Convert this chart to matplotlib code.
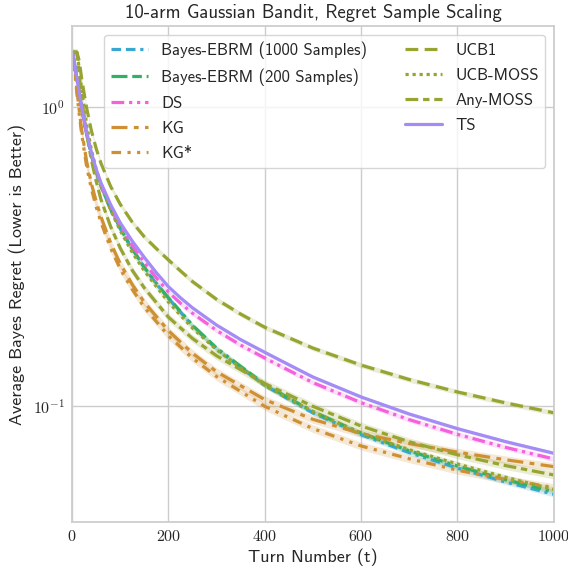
import numpy as np
import matplotlib
matplotlib.use("Agg")
import matplotlib.pyplot as plt
import seaborn as sns
from matplotlib.ticker import FuncFormatter, NullFormatter, NullLocator

turns = [1, 5, 10, 15, 20, 30, 40, 50, 60, 80, 100, 125, 150, 175, 200, 225,
         250, 300, 350, 400, 450, 500, 600, 700, 800, 900, 1000]

ebrm_1000 = [1.53, 1.395, 1.244, 1.108, 0.987, 0.812, 0.691, 0.606, 0.543,
             0.4545, 0.392, 0.334, 0.290, 0.256, 0.229, 0.206, 0.185, 0.155,
             0.1345, 0.117, 0.105, 0.0946, 0.080, 0.0696, 0.0618, 0.0555,
             0.0505]
ebrm_200 = [1.53, 1.395, 1.244, 1.108, 0.987, 0.812, 0.691, 0.606, 0.543,
            0.455, 0.393, 0.335, 0.291, 0.257, 0.230, 0.207, 0.186, 0.156,
            0.1355, 0.118, 0.106, 0.0955, 0.081, 0.0706, 0.0628, 0.0565,
            0.0515]
ds = [1.53, 1.395, 1.244, 1.108, 0.99, 0.815, 0.695, 0.61, 0.548, 0.461,
      0.40, 0.344, 0.302, 0.268, 0.2404, 0.2205, 0.2041, 0.1787, 0.1596,
      0.1445, 0.1313, 0.1195, 0.1024, 0.0898, 0.0802, 0.0725, 0.0663]
kg = [1.53, 1.36, 1.14, 0.97, 0.835, 0.66, 0.555, 0.4835, 0.429, 0.351,
      0.299, 0.2546, 0.222, 0.199, 0.1784, 0.1635, 0.1499, 0.130, 0.1167,
      0.1048, 0.0971, 0.090, 0.0807, 0.0747, 0.0699, 0.0659, 0.0625]
kg_star = [1.53, 1.34, 1.11, 0.94, 0.81, 0.635, 0.533, 0.463, 0.411, 0.337,
           0.287, 0.245, 0.2135, 0.1913, 0.1715, 0.1573, 0.1443, 0.1252,
           0.1116, 0.0995, 0.0913, 0.0838, 0.0733, 0.0664, 0.0608, 0.0566,
           0.0532]
ucb1 = [1.53, 1.53, 1.53, 1.425, 1.24, 0.997, 0.835, 0.727, 0.649, 0.543,
        0.473, 0.412, 0.368, 0.336, 0.308, 0.283, 0.2606, 0.2272, 0.2028,
        0.1832, 0.169, 0.156, 0.1368, 0.1224, 0.1112, 0.1022, 0.0947]
ucb_moss = [1.53, 1.53, 1.53, 1.33, 1.14, 0.88, 0.72, 0.62, 0.548, 0.452,
            0.386, 0.326, 0.283, 0.2505, 0.2225, 0.201, 0.182, 0.154, 0.134,
            0.117, 0.1056, 0.0955, 0.081, 0.0712, 0.0638, 0.0576, 0.0524]
any_moss = [1.53, 1.53, 1.53, 1.28, 1.07, 0.82, 0.665, 0.565, 0.49, 0.398,
            0.337, 0.284, 0.248, 0.2215, 0.198, 0.1823, 0.168, 0.147, 0.132,
            0.1187, 0.1087, 0.0995, 0.0855, 0.0757, 0.0685, 0.063, 0.0586]
ts = [1.53, 1.40, 1.25, 1.115, 1.0, 0.825, 0.705, 0.62, 0.558, 0.472, 0.41,
      0.356, 0.314, 0.279, 0.2505, 0.2299, 0.2128, 0.1863, 0.1665, 0.151,
      0.1372, 0.1248, 0.107, 0.0938, 0.0838, 0.0758, 0.0693]

labels = ["Bayes-EBRM (1000 Samples)", "Bayes-EBRM (200 Samples)", "DS", "KG",
          "KG*", "UCB1", "UCB-MOSS", "Any-MOSS", "TS"]
series = [ebrm_1000, ebrm_200, ds, kg, kg_star, ucb1, ucb_moss, any_moss, ts]
# relative half-width of the shaded band around each curve
ci_frac = [0.02, 0.02, 0.02, 0.03, 0.03, 0.02, 0.02, 0.03, 0.015]

sns.set_theme(style="whitegrid", context="notebook")
plt.rcParams["font.family"] = ["cmss10", "DejaVu Sans"]
plt.rcParams["mathtext.fontset"] = "cm"
plt.rcParams["axes.unicode_minus"] = False

pal = sns.color_palette("husl", 8)
colors = [pal[5], pal[3], pal[7], pal[1], pal[1], pal[2], pal[2], pal[2], pal[6]]
styles = [(0, (3, 1.5, 3, 1.5, 1, 1.5, 1, 1.5)),
          (0, (5, 1.5, 3, 1.5, 1, 1.5, 1, 1.5)),
          (0, (4, 1.5, 1, 1.5, 1, 1.5)),
          (0, (5, 2, 1.5, 2)),
          (0, (3, 2, 1, 2, 1, 2)),
          (0, (4, 2)),
          (0, (1, 1.2)),
          (0, (4, 1.5, 2, 1.5)),
          "-"]

fig = plt.figure(figsize=(5.68, 5.71), dpi=100)
ax = fig.add_axes([0.127, 0.086, 0.848, 0.868])

t = np.array(turns)
for lab, vals, c, ls, cf in zip(labels, series, colors, styles, ci_frac):
    v = np.array(vals)
    ax.fill_between(t, v * (1 - cf), v * (1 + cf), color=c, alpha=0.2, lw=0)
    ax.plot(t, v, color=c, ls=ls, lw=2.3, label=lab)

ax.set_yscale("log")
ax.set_xlim(0, 1000)
ax.set_ylim(0.0408, 1.87)
ax.set_xticks(range(0, 1001, 200))
ax.xaxis.set_major_formatter(FuncFormatter(lambda v, p: rf"${int(v)}$"))
ax.yaxis.set_major_formatter(
    FuncFormatter(lambda v, p: rf"$10^{{{int(round(np.log10(v)))}}}$"))
ax.yaxis.set_minor_locator(NullLocator())
ax.yaxis.set_minor_formatter(NullFormatter())
ax.tick_params(axis="both", labelsize=11.5, length=0, pad=5)

ax.set_title("10-arm Gaussian Bandit, Regret Sample Scaling", fontsize=13.5)
ax.set_xlabel("Turn Number (t)", fontsize=13, labelpad=3)
ax.set_ylabel("Average Bayes Regret (Lower is Better)", fontsize=13,
              labelpad=5)
ax.legend(loc="upper right", ncol=2, fontsize=12, handlelength=2.2,
          columnspacing=2.3, labelspacing=0.6)

fig.savefig("out.png", dpi=100)
